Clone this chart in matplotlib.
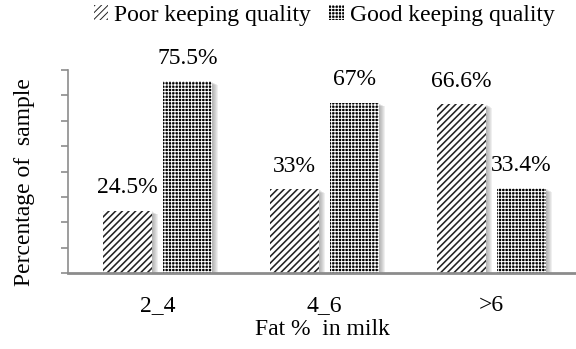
import matplotlib
matplotlib.use('Agg')
import matplotlib.pyplot as plt
import matplotlib.patheffects as pe
import numpy as np

plt.rcParams['font.family'] = ['Liberation Serif', 'DejaVu Serif']
plt.rcParams['hatch.linewidth'] = 0.7

# fat content groups and share of samples per keeping quality
fat_groups = ['2_4', '4_6', '>6']
poor_quality = [24.5, 33.0, 66.6]
good_quality = [75.5, 67.0, 33.4]
poor_labels = ['24.5%', '33%', '66.6%']
good_labels = ['75.5%', '67%', '33.4%']

fig = plt.figure(figsize=(5.76, 3.49), dpi=100)
ax = fig.add_axes([68 / 576, 1 - 273 / 349, 1 - 68 / 576, 203 / 349])

x = np.arange(len(fat_groups))
width = 0.293
off = 0.18

# soft drop shadow built from a few offset layers, drawn on plain bars underneath
shadow = [pe.SimplePatchShadow(offset=(d, -d * 0.6), shadow_rgbFace='#666666', alpha=0.1)
          for d in (0.7, 1.4, 2.1, 2.8, 3.5, 4.2)]
shadow.append(pe.Normal())
for pos, vals in ((x - off, poor_quality), (x + off, good_quality)):
    under = ax.bar(pos, vals, width, color='white', linewidth=0, zorder=1)
    for b in under:
        b.set_path_effects(shadow)

bars_poor = ax.bar(x - off, poor_quality, width, color='white', edgecolor='#222222',
                   hatch='/////', linewidth=0, zorder=2, label='Poor keeping quality')
bars_good = ax.bar(x + off, good_quality, width, color='black', edgecolor='white',
                   hatch='+++++', linewidth=0, zorder=2, label='Good keeping quality')
for b in bars_poor:
    if hasattr(b, 'set_hatch_linewidth'):
        b.set_hatch_linewidth(1.15)

for bars, labels in ((bars_poor, poor_labels), (bars_good, good_labels)):
    for b, lab in zip(bars, labels):
        ax.annotate(lab, (b.get_x() + b.get_width() / 2, b.get_height()),
                    xytext=(0, 9), textcoords='offset points',
                    ha='center', va='bottom', fontsize=17)

ax.set_xlim(-0.536, 2.506)
ax.set_ylim(0, 80)
ax.set_yticks(np.arange(0, 81, 10))
ax.set_yticklabels([])
ax.set_xticks(x)
ax.set_xticklabels(fat_groups, fontsize=17)
ax.tick_params(axis='x', length=0, pad=16)
ax.tick_params(axis='y', length=5, width=1.2, color='#8c8c8c', direction='out')

for s in ('top', 'right'):
    ax.spines[s].set_visible(False)
ax.spines['left'].set_color('#8c8c8c')
ax.spines['left'].set_linewidth(1.2)
ax.spines['bottom'].set_color('#8c8c8c')
ax.spines['bottom'].set_linewidth(2)
ax.spines['bottom'].set_zorder(3)

ax.set_xlabel('Fat %  in milk', fontsize=17, labelpad=2)
ax.set_ylabel('Percentage of  sample', fontsize=17)
ax.yaxis.set_label_coords(-0.064, 0.45)

fig.legend(handles=[bars_poor, bars_good], loc='center',
           bbox_to_anchor=(324 / 576, 1 - 15 / 349), ncol=2,
           frameon=False, fontsize=17, handlelength=0.6, handleheight=0.6,
           handletextpad=0.25, columnspacing=0.8, borderpad=0)

fig.savefig('out.png', dpi=100)
